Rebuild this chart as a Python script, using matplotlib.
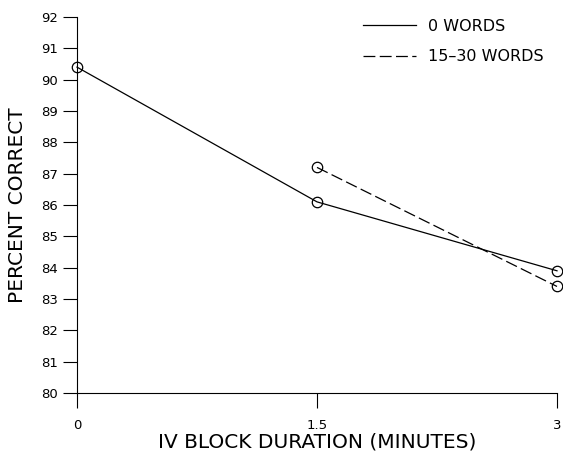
import matplotlib
matplotlib.use("Agg")
import matplotlib.pyplot as plt

# Data
durations_0 = [0, 1.5, 3]
percent_0 = [90.4, 86.1, 83.9]
durations_15 = [1.5, 3]
percent_15 = [87.2, 83.4]
series_labels = ["0 WORDS", "15\u201330 WORDS"]
x_ticks = [0, 1.5, 3]
x_ticklabels = ["0", "1.5", "3"]
y_ticks = list(range(80, 93))
y_ticklabels = [str(v) for v in y_ticks]

W, H = 563, 461
fig = plt.figure(figsize=(W / 100, H / 100), dpi=100)
ax = fig.add_axes([77 / W, 1 - 393 / H, (557 - 77) / W, (393 - 17) / H])

ax.plot(durations_0, percent_0, color="black", lw=0.9, marker="o", ms=7.5,
        mfc="none", mec="black", mew=0.9, label=series_labels[0], clip_on=False)
l2, = ax.plot(durations_15, percent_15, color="black", lw=0.9, marker="o", ms=7.5,
              mfc="none", mec="black", mew=0.9, label=series_labels[1], clip_on=False)
l2.set_dashes((9.5, 3.5))

ax.set_xlim(0, 3)
ax.set_ylim(80, 92)
for s in ["top", "right"]:
    ax.spines[s].set_visible(False)
for s in ["left", "bottom"]:
    ax.spines[s].set_linewidth(0.8)

ax.set_xticks(x_ticks)
ax.set_xticklabels(x_ticklabels)
ax.set_yticks(y_ticks)
ax.set_yticklabels(y_ticklabels)
ax.tick_params(axis="x", direction="out", length=11, width=0.8, pad=8, labelsize=9.5)
ax.tick_params(axis="y", direction="out", length=10, width=0.8, pad=4, labelsize=9.5)

ax.set_xlabel("IV BLOCK DURATION (MINUTES)", fontsize=14.5, labelpad=0)
ax.set_ylabel("PERCENT CORRECT", fontsize=14.5, labelpad=10)

leg = ax.legend(loc="upper left", bbox_to_anchor=(363 / W, 1 - 19 / H),
                bbox_transform=fig.transFigure, frameon=False, fontsize=11.5,
                handlelength=3.3, handletextpad=0.75, labelspacing=0.95,
                borderpad=0, borderaxespad=0)
for h in leg.legend_handles:
    h.set_marker("")

fig.savefig("out.png", dpi=100)
